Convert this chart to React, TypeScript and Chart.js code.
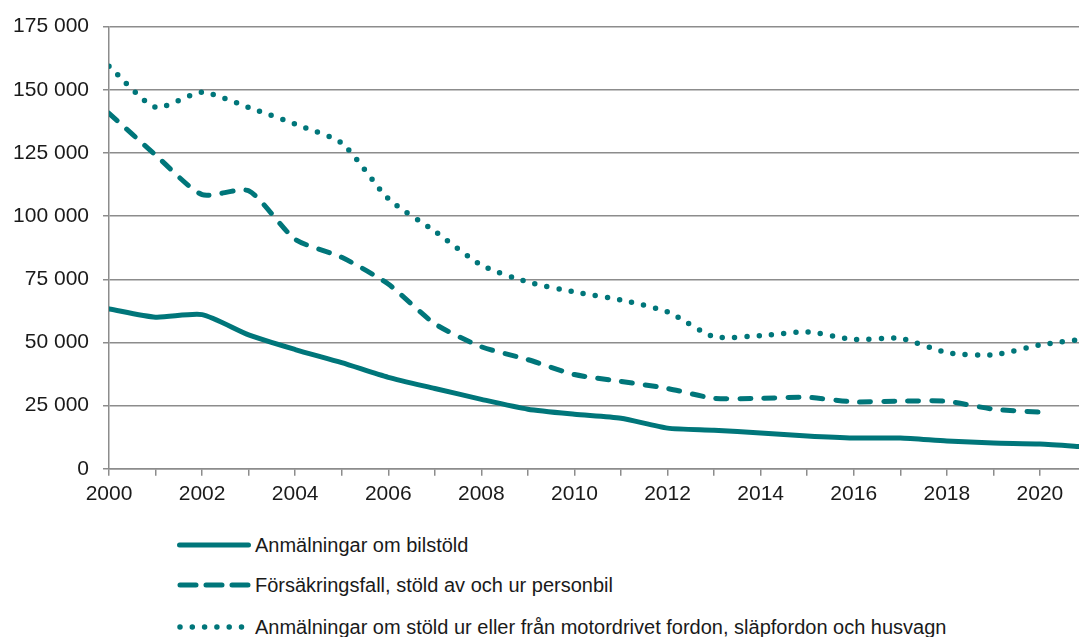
import React, { useEffect, useRef } from "react";
import { Chart, registerables } from "chart.js";

Chart.register(...registerables);

const years = [2000, 2001, 2002, 2003, 2004, 2005, 2006, 2007, 2008, 2009, 2010, 2011, 2012, 2013, 2014, 2015, 2016, 2017, 2018, 2019, 2020, 2021];

const bilstold = [63300, 60000, 61000, 53000, 47200, 42000, 36200, 31800, 27500, 23600, 21600, 20000, 16100, 15300, 14200, 13000, 12200, 12200, 11000, 10200, 9800, 8600];

const forsakringsfall = [140700, 124200, 108500, 110000, 90800, 83700, 73100, 57400, 48300, 43200, 37300, 34600, 31800, 27900, 27900, 28300, 26500, 26800, 26700, 23600, 22400];

const motorfordon = [159300, 143100, 149000, 143000, 136400, 128900, 106900, 94000, 80600, 73900, 70000, 66800, 62100, 52300, 52700, 54200, 51200, 51600, 46000, 45100, 49000, 51500];

const seriesNames = [
  "Anmälningar om bilstöld",
  "Försäkringsfall, stöld av och ur personbil",
  "Anmälningar om stöld ur eller från motordrivet fordon, släpfordon och husvagn",
];

const yTicks = [0, 25000, 50000, 75000, 100000, 125000, 150000, 175000];
const xLabelYears = [2000, 2002, 2004, 2006, 2008, 2010, 2012, 2014, 2016, 2018, 2020];

const TEAL = "#00767a";
const GRID = "#8c8c8c";
const FONT = "'Liberation Sans', Arial, sans-serif";

const fmt = (v: number) => String(v).replace(/\B(?=(\d{3})+(?!\d))/g, " ");
const toXY = (vals: number[]) => vals.map((v, i) => ({ x: years[i], y: v }));

export default function App() {
  const ref = useRef<HTMLCanvasElement | null>(null);

  useEffect(() => {
    if (!ref.current) return;
    const chart = new Chart(ref.current, {
      type: "line",
      data: {
        datasets: [
          {
            label: seriesNames[0],
            data: toXY(bilstold),
            borderColor: TEAL,
            borderWidth: 5,
            borderCapStyle: "round",
            pointRadius: 0,
            tension: 0.22,
          },
          {
            label: seriesNames[1],
            data: toXY(forsakringsfall),
            borderColor: TEAL,
            borderWidth: 5,
            borderDash: [11, 13],
            borderCapStyle: "round",
            pointRadius: 0,
            tension: 0.22,
          },
          {
            label: seriesNames[2],
            data: toXY(motorfordon),
            borderColor: TEAL,
            borderWidth: 5.5,
            borderDash: [0, 12.3],
            borderCapStyle: "round",
            pointRadius: 0,
            tension: 0.22,
          },
        ],
      },
      options: {
        animation: false,
        responsive: false,
        layout: { padding: { top: 23, right: 0, bottom: 3, left: 0 } },
        plugins: { legend: { display: false }, tooltip: { enabled: false } },
        scales: {
          x: {
            type: "linear",
            min: 2000,
            max: 2020.84,
            grid: { drawOnChartArea: false, drawTicks: true, tickLength: 7, color: GRID, lineWidth: 1.5 },
            border: { display: true, color: GRID, width: 1.5 },
            ticks: {
              stepSize: 1,
              includeBounds: false,
              autoSkip: false,
              maxRotation: 0,
              padding: 6,
              color: "#1a1a1a",
              font: { family: FONT, size: 21 },
              callback: (v: any) => (xLabelYears.includes(Number(v)) ? String(v) : ""),
            },
          },
          y: {
            min: 0,
            max: 175000,
            afterBuildTicks: (s: any) => {
              s.ticks = yTicks.map((v) => ({ value: v }));
            },
            afterFit: (s: any) => {
              s.width = 109;
            },
            grid: { color: GRID, lineWidth: 1.5, drawTicks: true, tickLength: 6 },
            border: { display: true, color: GRID, width: 1.5 },
            ticks: {
              padding: 14,
              color: "#1a1a1a",
              font: { family: FONT, size: 21 },
              callback: (v: any) => fmt(Number(v)),
            },
          },
        },
      },
    });
    return () => chart.destroy();
  }, []);

  const legendRow = (i: number, top: number) => (
    <div
      key={i}
      style={{ position: "absolute", left: 177, top: top - 14, height: 28, display: "flex", alignItems: "center", whiteSpace: "nowrap" }}
    >
      <svg width={74} height={10} style={{ display: "block" }}>
        {i === 0 && <line x1={2.5} y1={5} x2={71.5} y2={5} stroke={TEAL} strokeWidth={5} strokeLinecap="round" />}
        {i === 1 && (
          <line x1={3} y1={5} x2={72} y2={5} stroke={TEAL} strokeWidth={5} strokeLinecap="round" strokeDasharray="16 10" />
        )}
        {i === 2 && (
          <line x1={3} y1={5} x2={72} y2={5} stroke={TEAL} strokeWidth={5.5} strokeLinecap="round" strokeDasharray="0 12.3" />
        )}
      </svg>
      <span style={{ marginLeft: 4, fontFamily: FONT, fontSize: 20, color: "#1a1a1a", lineHeight: "28px" }}>{seriesNames[i]}</span>
    </div>
  );

  return (
    <div style={{ position: "absolute", left: 0, top: 0, width: 1079, height: 637, background: "#fff", overflow: "hidden" }}>
      <canvas ref={ref} width={1079} height={516} style={{ position: "absolute", left: 0, top: 0 }} />
      {legendRow(0, 545)}
      {legendRow(1, 585)}
      {legendRow(2, 627)}
    </div>
  );
}
